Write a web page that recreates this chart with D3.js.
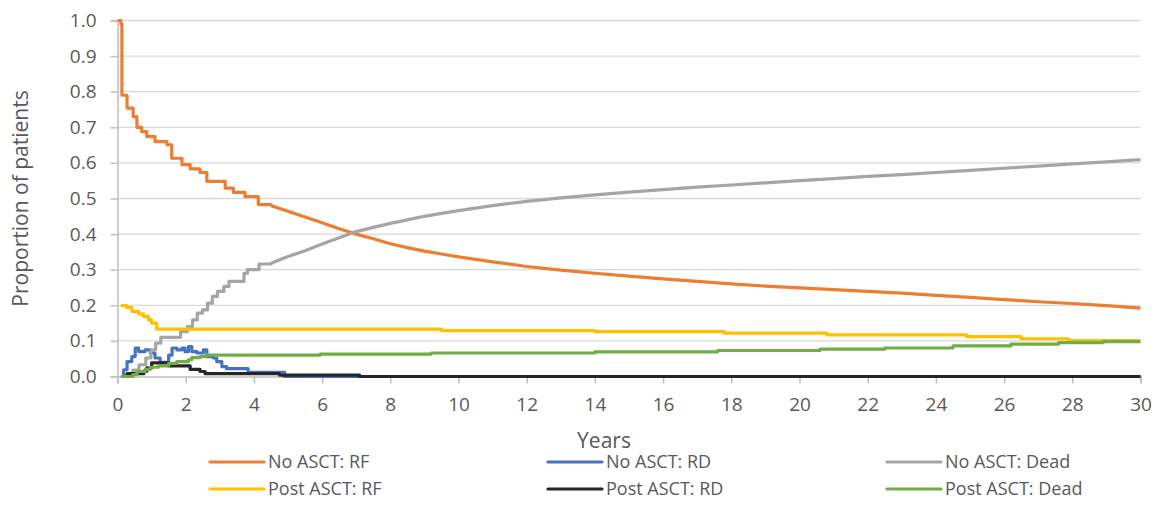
<!DOCTYPE html>
<html>
<head>
  <meta charset="utf-8">
  <title>Proportion of patients by state</title>
  <script src="https://cdn.jsdelivr.net/npm/d3@7/dist/d3.min.js"></script>
  <style>
    body { margin: 0; background: #fff; }
    svg text { font-family: "Open Sans", sans-serif; fill: #595959; }
  </style>
</head>
<body>
  <svg id="chart" width="1159" height="524"></svg>
  <script>
    // values, [years, proportion]
    const noAsctRF = [[0, 1.0], [0.1, 0.99], [0.13, 0.79], [0.28, 0.754], [0.46, 0.73], [0.57, 0.70], [0.71, 0.688],
      [0.86, 0.674], [1.1, 0.66], [1.45, 0.651], [1.59, 0.613], [1.89, 0.595], [2.13, 0.583], [2.42, 0.573],
      [2.62, 0.548], [3.16, 0.529], [3.4, 0.517], [3.74, 0.505], [4.13, 0.483], [4.5, 0.48], [5, 0.464],
      [5.5, 0.448], [6, 0.432], [6.5, 0.415], [7, 0.40], [7.5, 0.387], [8, 0.373], [8.5, 0.362], [9, 0.352],
      [9.5, 0.344], [10, 0.336], [11, 0.322], [12, 0.309], [13, 0.299], [14, 0.290], [15, 0.282], [16, 0.274],
      [17, 0.267], [18, 0.260], [19, 0.254], [20, 0.249], [21, 0.244], [22, 0.239], [23, 0.234], [24, 0.228],
      [25, 0.222], [26, 0.216], [27, 0.210], [28, 0.205], [29, 0.199], [30, 0.192]];
    const noAsctRD = [[0.12, 0], [0.18, 0.019], [0.28, 0.042], [0.42, 0.056], [0.52, 0.08], [0.62, 0.07],
      [0.81, 0.075], [0.96, 0.066], [1.1, 0.052], [1.25, 0.04], [1.5, 0.06], [1.6, 0.08], [1.74, 0.075],
      [1.89, 0.08], [1.98, 0.07], [2.08, 0.084], [2.18, 0.07], [2.33, 0.066], [2.52, 0.075], [2.62, 0.056],
      [2.81, 0.052], [2.91, 0.042], [3.06, 0.028], [3.2, 0.022], [3.83, 0.012], [4.9, 0], [30, 0]];
    const noAsctDead = [[0.15, 0], [0.3, 0.008], [0.45, 0.018], [0.63, 0.033], [0.83, 0.052], [0.98, 0.075],
      [1.12, 0.094], [1.27, 0.11], [1.85, 0.126], [2.05, 0.14], [2.2, 0.159], [2.34, 0.178], [2.49, 0.187],
      [2.64, 0.206], [2.78, 0.225], [2.93, 0.239], [3.12, 0.253], [3.27, 0.267], [3.71, 0.29], [3.81, 0.30],
      [4.15, 0.316], [4.5, 0.318], [5, 0.337], [5.5, 0.353], [6, 0.372], [6.5, 0.39], [7, 0.407], [7.5, 0.419],
      [8, 0.43], [8.5, 0.44], [9, 0.45], [9.5, 0.458], [10, 0.466], [11, 0.48], [12, 0.492], [13, 0.502],
      [14, 0.51], [15, 0.518], [16, 0.525], [17, 0.532], [18, 0.538], [19, 0.544], [20, 0.55], [21, 0.556],
      [22, 0.562], [23, 0.567], [24, 0.573], [25, 0.579], [26, 0.585], [27, 0.591], [28, 0.597], [29, 0.603],
      [30, 0.609]];
    const postAsctRF = [[0.1, 0.2], [0.13, 0.199], [0.27, 0.194], [0.42, 0.183], [0.62, 0.176], [0.76, 0.169],
      [0.91, 0.159], [1.0, 0.15], [1.15, 0.133], [9.5, 0.129], [14, 0.126], [17.8, 0.122], [20.8, 0.117],
      [24.9, 0.112], [26.5, 0.106], [27.9, 0.101], [30, 0.101]];
    const postAsctRD = [[0.1, 0], [0.28, 0.008], [0.77, 0.015], [0.86, 0.024], [1.0, 0.038], [1.5, 0.03],
      [2.13, 0.02], [2.42, 0.014], [2.57, 0.008], [4.75, 0.004], [7.1, 0], [30, 0]];
    const postAsctDead = [[0.1, 0], [0.45, 0.005], [0.57, 0.014], [0.81, 0.02], [0.96, 0.026], [1.2, 0.03],
      [1.5, 0.037], [1.74, 0.042], [2.08, 0.047], [2.18, 0.053], [2.42, 0.056], [2.6, 0.06], [5.94, 0.063],
      [9.2, 0.066], [14, 0.069], [17.6, 0.073], [20.6, 0.077], [22.5, 0.08], [24.5, 0.086], [26.2, 0.091],
      [27.6, 0.095], [28.9, 0.098], [30, 0.098]];

    const seriesNames = ['No ASCT: RF', 'No ASCT: RD', 'No ASCT: Dead', 'Post ASCT: RF', 'Post ASCT: RD', 'Post ASCT: Dead'];
    const seriesData = [noAsctRF, noAsctRD, noAsctDead, postAsctRF, postAsctRD, postAsctDead];
    const colors = ['#ED7D31', '#4472C4', '#A5A5A5', '#FFC000', '#262626', '#70AD47'];
    // after this many years the curve has only tiny steps, so draw it straight
    const smoothFrom = [4.5, Infinity, 4.5, Infinity, Infinity, Infinity];
    const xTicks = d3.range(0, 31, 2);
    const yTicks = d3.range(0, 11).map(d => d / 10);

    const svg = d3.select('#chart');
    const x = d3.scaleLinear().domain([0, 30]).range([117.5, 1140.5]);
    const y = d3.scaleLinear().domain([0, 1]).range([376.5, 20.5]);

    // gridlines
    svg.append('g')
      .selectAll('line')
      .data(yTicks.slice(1))
      .join('line')
      .attr('x1', x(0)).attr('x2', x(30))
      .attr('y1', d => y(d)).attr('y2', d => y(d))
      .attr('stroke', '#d9d9d9').attr('stroke-width', 1.3);

    // axes
    const yAxis = svg.append('g')
      .attr('transform', `translate(${x(0)},0)`)
      .call(d3.axisLeft(y).tickValues(yTicks).tickFormat(d3.format('.1f')).tickSize(7).tickPadding(14));
    const xAxis = svg.append('g')
      .attr('transform', `translate(0,${y(0)})`)
      .call(d3.axisBottom(x).tickValues(xTicks).tickSize(7).tickPadding(14));
    [xAxis, yAxis].forEach(a => {
      a.selectAll('.domain').attr('stroke', '#bfbfbf').attr('stroke-width', 1.5);
      a.selectAll('.tick line').attr('stroke', '#bfbfbf').attr('stroke-width', 1.5);
      a.selectAll('.tick text').attr('font-size', 19).attr('font-family', null).style('fill', '#595959');
    });

    // series: stepped part, then the smooth tail
    const stepLine = d3.line().x(d => x(d[0])).y(d => y(d[1])).curve(d3.curveStepAfter);
    const flatLine = d3.line().x(d => x(d[0])).y(d => y(d[1]));

    const series = svg.append('g')
      .selectAll('g')
      .data(seriesData)
      .join('g')
      .attr('fill', 'none')
      .attr('stroke', (d, i) => colors[i])
      .attr('stroke-width', 3.2)
      .attr('stroke-linejoin', 'round');
    series.append('path')
      .attr('d', (d, i) => stepLine(d.filter(p => p[0] <= smoothFrom[i])));
    series.append('path')
      .attr('d', (d, i) => {
        const tail = d.filter(p => p[0] >= smoothFrom[i]);
        return tail.length > 1 ? flatLine(tail) : null;
      });

    // axis titles
    svg.append('text')
      .attr('x', 604)
      .attr('y', 448)
      .attr('text-anchor', 'middle')
      .attr('font-size', 21)
      .text('Years');
    svg.append('text')
      .attr('transform', `translate(28,${(y(0) + y(1)) / 2}) rotate(-90)`)
      .attr('text-anchor', 'middle')
      .attr('font-size', 21)
      .text('Proportion of patients');

    // legend
    const legendX = [210, 548, 887];
    const legendY = [462, 489];
    const legend = svg.append('g')
      .selectAll('g')
      .data(seriesNames)
      .join('g')
      .attr('transform', (d, i) => `translate(${legendX[i % 3]},${legendY[Math.floor(i / 3)]})`);
    legend.append('line')
      .attr('x1', 0).attr('x2', 54)
      .attr('stroke', (d, i) => colors[i])
      .attr('stroke-width', 3.2)
      .attr('stroke-linecap', 'round');
    legend.append('text')
      .attr('x', 58)
      .attr('dy', '0.35em')
      .attr('font-size', 18)
      .text(d => d);
  </script>
</body>
</html>
